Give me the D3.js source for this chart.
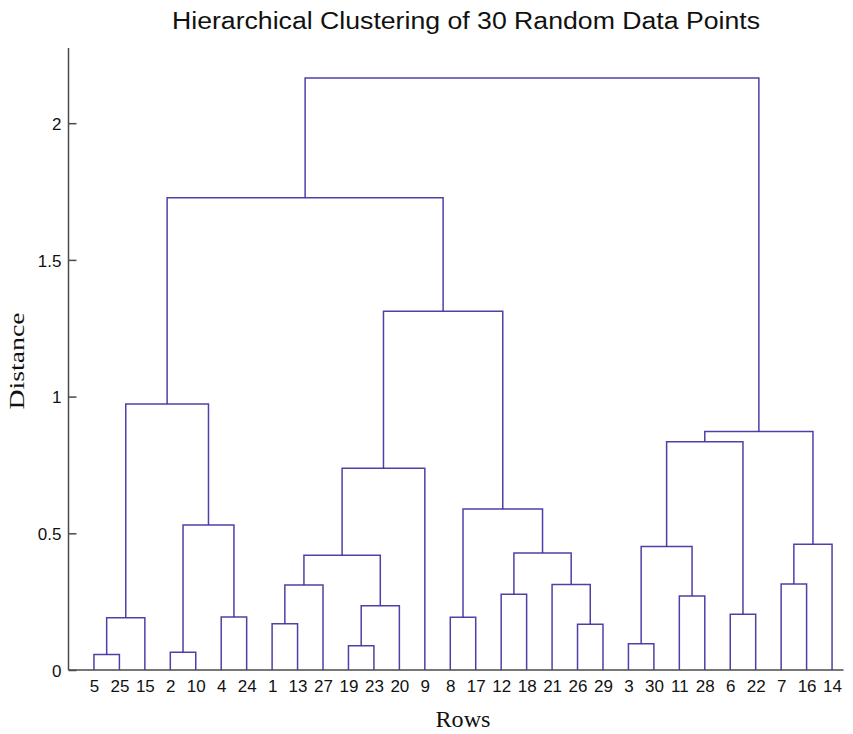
<!DOCTYPE html>
<html>
<head>
<meta charset="utf-8">
<script src="https://cdn.jsdelivr.net/npm/d3@7"></script>
<style>
  html, body { margin: 0; padding: 0; background: #fff; }
  svg { display: block; }
</style>
</head>
<body>
<svg id="chart" width="853" height="734"></svg>
<script>
// Leaf order along the x axis (row labels)
const leafOrder = [5,25,15,2,10,4,24,1,13,27,19,23,20,9,8,17,12,18,21,26,29,3,30,11,28,6,22,7,16,14];
// Linkage rows: [child A, child B, merge distance]; ids > 30 refer to earlier rows (31 = first row)
const linkA = [5, 2, 19, 3, 26, 1, 31, 8, 4, 6, 33, 11, 12, 36, 21, 7, 44, 43, 34, 46, 32, 38, 47, 49, 54, 37, 53, 56, 58];
const linkB = [25,10, 23,30, 29,13, 15,17,24,22, 20, 28, 18, 27, 35,16, 41, 45, 42, 14, 39, 48, 9, 40, 50, 51, 52, 57, 55];
const linkH = [0.057,0.065,0.089,0.096,0.167,0.169,0.191,0.193,0.194,0.204,0.235,0.271,0.277,0.311,0.313,0.315,0.420,0.428,0.452,0.460,0.530,0.589,0.738,0.835,0.872,0.973,1.312,1.727,2.165];
const yTickValues = [0, 0.5, 1, 1.5, 2];
const yTickLabels = ["0", "0.5", "1", "1.5", "2"];
const titleText = "Hierarchical Clustering of 30 Random Data Points";
const xLabel = "Rows";
const yLabel = "Distance";

const svg = d3.select("#chart");
const nLeaves = leafOrder.length;

const x = d3.scaleLinear().domain([0, 30.45]).range([68.5, 843.5]);
const y = d3.scaleLinear().domain([0, 2.275]).range([670, 48]);

// Node positions
const pos = {};
leafOrder.forEach((leaf, i) => { pos[leaf] = { x: i + 1, h: 0 }; });
linkH.forEach((h, i) => {
  const a = pos[linkA[i]], b = pos[linkB[i]];
  pos[nLeaves + 1 + i] = { x: (a.x + b.x) / 2, h: h };
});

const lineColor = "#3a2c9e";
const g = svg.append("g");
linkH.forEach((h, i) => {
  const a = pos[linkA[i]], b = pos[linkB[i]];
  const p = d3.path();
  p.moveTo(x(a.x), y(a.h));
  p.lineTo(x(a.x), y(h));
  p.lineTo(x(b.x), y(h));
  p.lineTo(x(b.x), y(b.h));
  g.append("path").attr("d", p.toString())
    .attr("fill", "none").attr("stroke", lineColor)
    .attr("stroke-width", 1.5).attr("opacity", 0.9);
});

// Axes
const axisColor = "#4a4a4a";
svg.append("line").attr("x1", x(0)).attr("x2", x(30.45)).attr("y1", y(0)).attr("y2", y(0))
  .attr("stroke", axisColor).attr("stroke-width", 1.5);
svg.append("line").attr("x1", x(0)).attr("x2", x(0)).attr("y1", y(0)).attr("y2", y(2.275))
  .attr("stroke", axisColor).attr("stroke-width", 1.5);

const yAxis = d3.axisRight(y).tickValues(yTickValues).tickFormat((d, i) => yTickLabels[i]).tickSize(8).tickSizeOuter(0);
const ya = svg.append("g").attr("transform", `translate(${x(0)},0)`).call(yAxis);
ya.select(".domain").remove();
ya.selectAll(".tick line").attr("stroke", axisColor).attr("stroke-width", 1.5);
ya.selectAll(".tick text").attr("x", -7).attr("dy", "0.36em").attr("text-anchor", "end")
  .attr("font-family", "'Liberation Sans', Arial, sans-serif").attr("font-size", 17).attr("fill", "#111");

const xAxis = d3.axisBottom(x).tickValues(leafOrder.map((d, i) => i + 1))
  .tickFormat((d) => String(leafOrder[d - 1])).tickSize(0).tickSizeOuter(0);
const xa = svg.append("g").attr("transform", `translate(0,${y(0)})`).call(xAxis);
xa.select(".domain").remove();
xa.selectAll(".tick text").attr("y", 22).attr("dy", 0)
  .attr("font-family", "'Liberation Sans', Arial, sans-serif").attr("font-size", 17).attr("fill", "#111");

// Title and labels
svg.append("text").attr("x", 466).attr("y", 29).attr("text-anchor", "middle")
  .attr("font-family", "'Liberation Sans', Arial, sans-serif").attr("font-size", 23.5).attr("fill", "#111")
  .attr("textLength", 588).attr("lengthAdjust", "spacingAndGlyphs")
  .text(titleText);
svg.append("text").attr("x", 463).attr("y", 727).attr("text-anchor", "middle")
  .attr("font-family", "'Liberation Serif', 'Times New Roman', serif").attr("font-size", 23).attr("fill", "#111")
  .attr("textLength", 55).attr("lengthAdjust", "spacingAndGlyphs")
  .text(xLabel);
svg.append("text").attr("transform", "translate(24,361) rotate(-90)").attr("text-anchor", "middle")
  .attr("font-family", "'Liberation Serif', 'Times New Roman', serif").attr("font-size", 22).attr("fill", "#111")
  .attr("textLength", 97).attr("lengthAdjust", "spacingAndGlyphs")
  .text(yLabel);
</script>
</body>
</html>
